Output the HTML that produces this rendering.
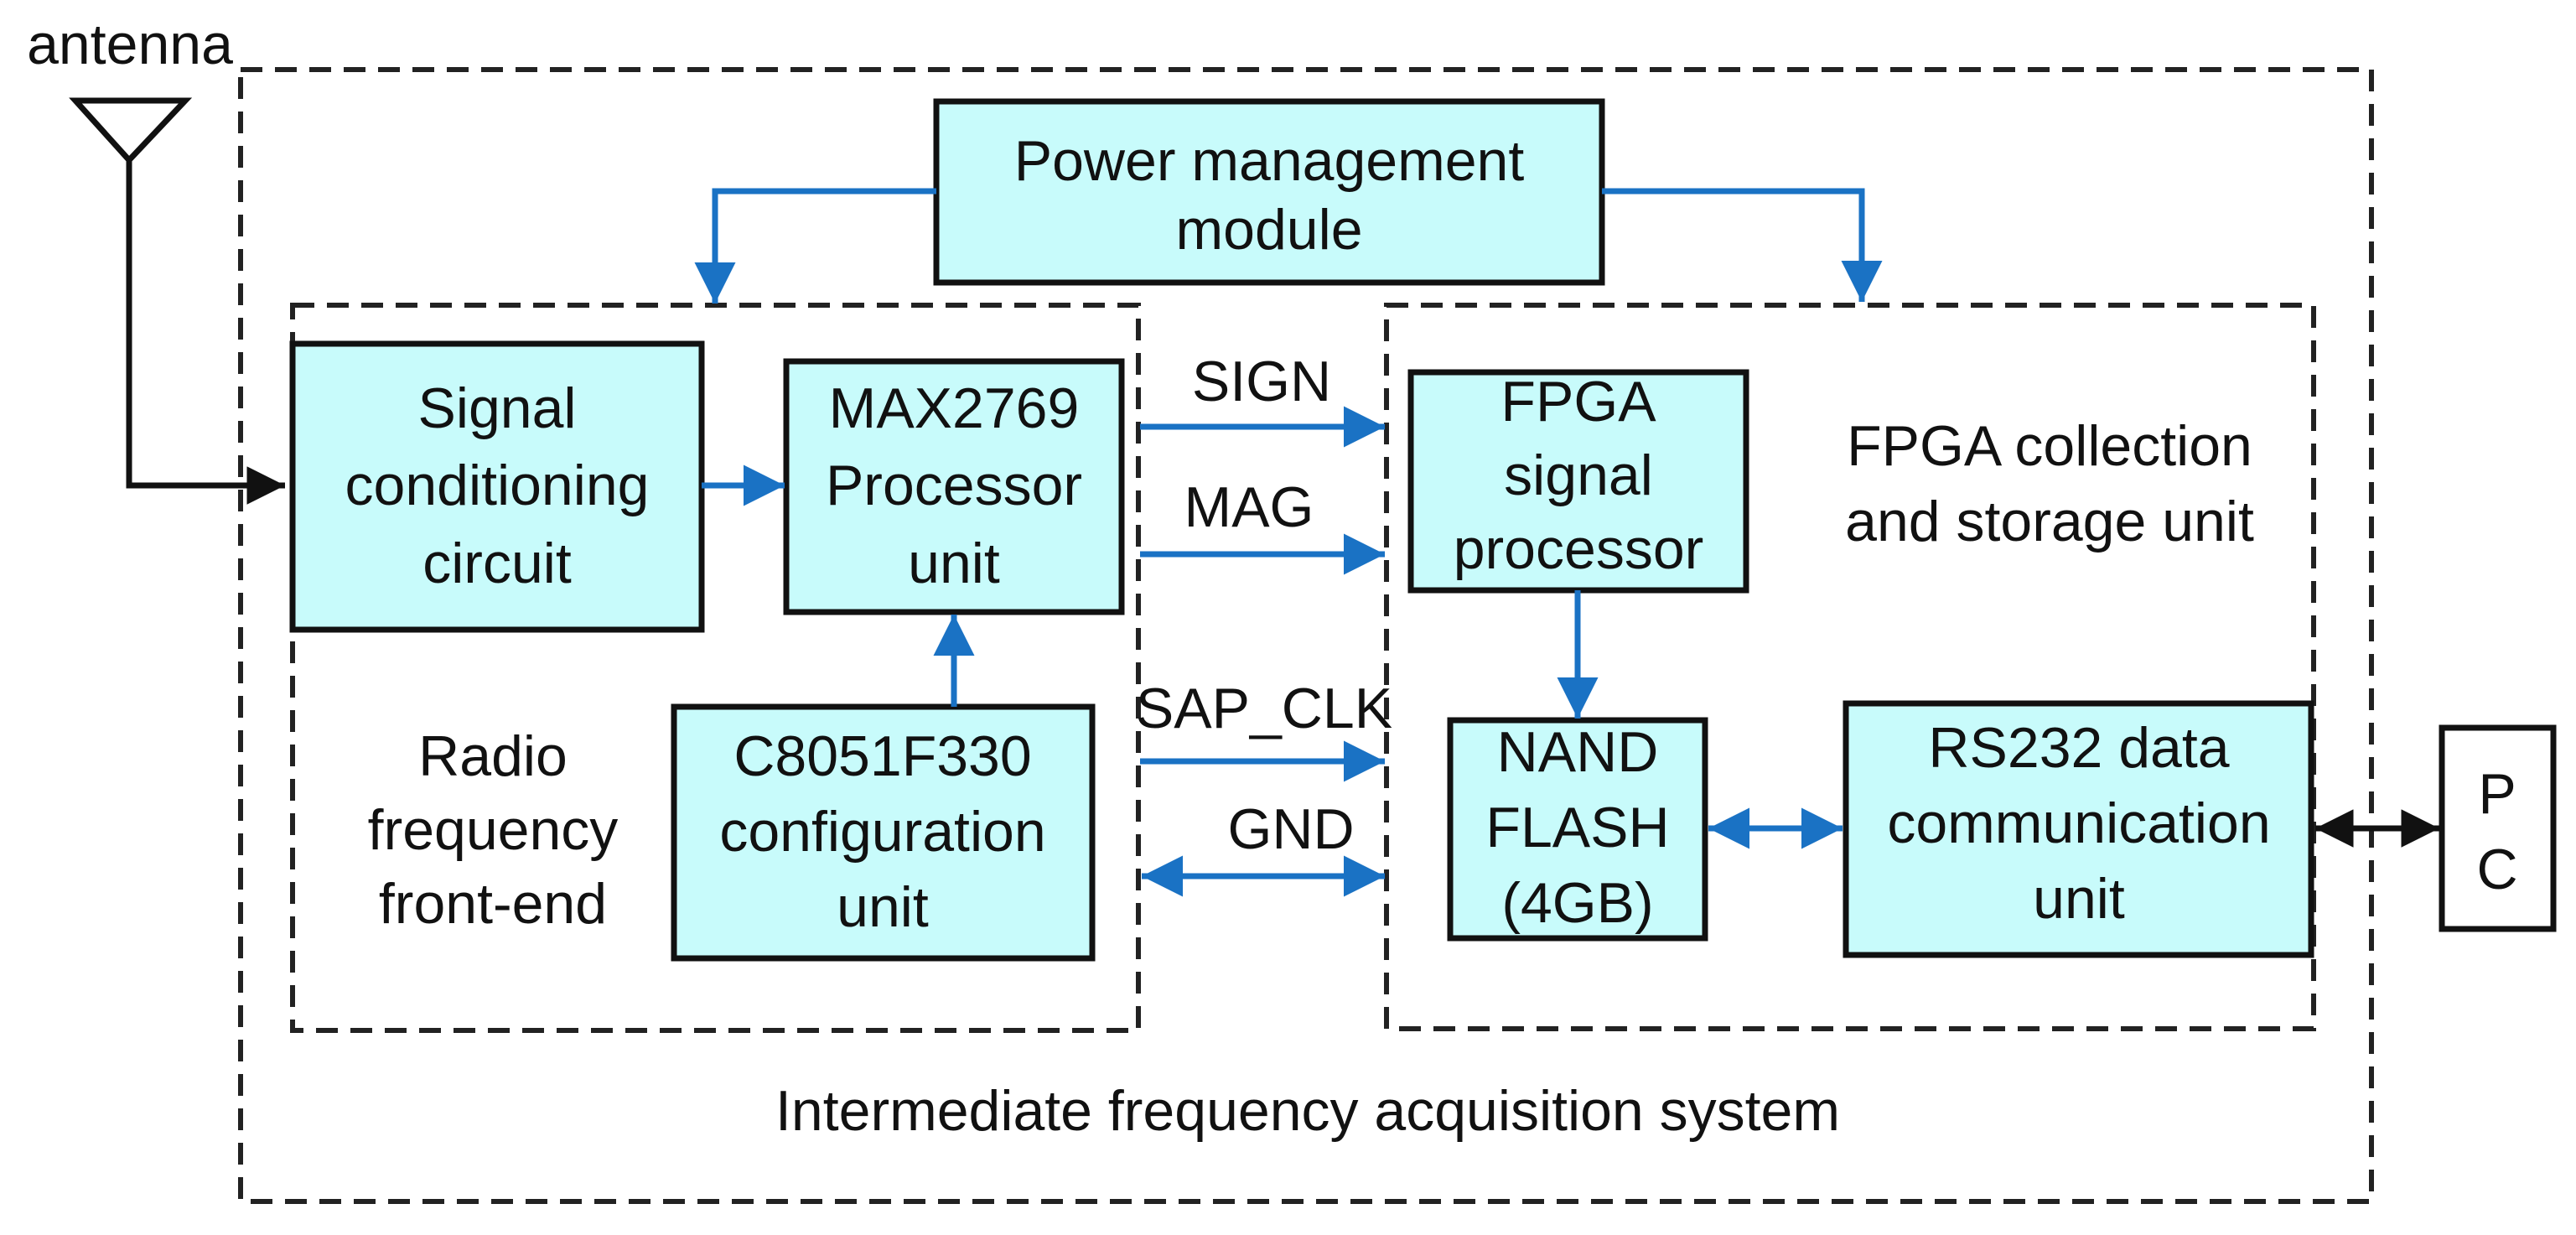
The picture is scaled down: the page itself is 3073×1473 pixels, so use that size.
<!DOCTYPE html>
<html><head><meta charset="utf-8"><style>
html,body{margin:0;padding:0;background:#fff;}
svg{display:block;}
text{font-family:"Liberation Sans",sans-serif;font-size:68px;fill:#111;text-anchor:middle;}
</style></head><body>
<svg width="3073" height="1473" viewBox="0 0 3073 1473" xmlns="http://www.w3.org/2000/svg">
<defs>
<marker id="bh" viewBox="0 0 10 10" refX="10" refY="5" markerWidth="7" markerHeight="7" markerUnits="strokeWidth" orient="auto-start-reverse"><path d="M0,0 L10,5 L0,10 Z" fill="#1a72c4"/></marker>
<marker id="kh" viewBox="0 0 10 10" refX="10" refY="5" markerWidth="6.5" markerHeight="6.5" markerUnits="strokeWidth" orient="auto-start-reverse"><path d="M0,0 L10,5 L0,10 Z" fill="#111"/></marker>
</defs>
<g fill="none" stroke="#222" stroke-width="6" stroke-dasharray="26,15">
<rect x="287" y="83" width="2542" height="1350"/>
<rect x="349" y="364" width="1009" height="865"/>
<rect x="1654" y="364" width="1106" height="863"/>
</g>
<text x="155" y="76" font-size="60">antenna</text>
<path d="M90,120 L221,120 L154,191 Z" fill="none" stroke="#111" stroke-width="7"/>
<polyline points="154,191 154,579 340,579" fill="none" stroke="#111" stroke-width="7" marker-end="url(#kh)"/>
<g fill="#c8fbfb" stroke="#111" stroke-width="7">
<rect x="1117" y="121" width="794" height="216"/>
<rect x="349" y="410" width="488" height="341"/>
<rect x="938" y="431" width="400" height="299"/>
<rect x="804" y="843" width="499" height="300"/>
<rect x="1683" y="444" width="400" height="260"/>
<rect x="1730" y="859" width="304" height="260"/>
<rect x="2202" y="839" width="555" height="300"/>
<rect x="2913" y="868" width="133" height="240" fill="#fff"/>
</g>
<g fill="none" stroke="#1a72c4" stroke-width="7">
<polyline points="1117,228 853,228 853,362" marker-end="url(#bh)"/>
<polyline points="1911,228 2221,228 2221,360" marker-end="url(#bh)"/>
<line x1="837" y1="579" x2="936" y2="579" marker-end="url(#bh)"/>
<line x1="1138" y1="843" x2="1138" y2="733" marker-end="url(#bh)"/>
<line x1="1360" y1="509" x2="1652" y2="509" marker-end="url(#bh)"/>
<line x1="1360" y1="661" x2="1652" y2="661" marker-end="url(#bh)"/>
<line x1="1360" y1="908" x2="1652" y2="908" marker-end="url(#bh)"/>
<line x1="1362" y1="1045" x2="1652" y2="1045" marker-start="url(#bh)" marker-end="url(#bh)"/>
<line x1="1882" y1="704" x2="1882" y2="857" marker-end="url(#bh)"/>
<line x1="2038" y1="988" x2="2198" y2="988" marker-start="url(#bh)" marker-end="url(#bh)"/>
</g>
<line x1="2762" y1="988" x2="2910" y2="988" stroke="#111" stroke-width="7" marker-start="url(#kh)" marker-end="url(#kh)"/>
<text x="1514" y="215">Power management</text>
<text x="1514" y="297">module</text>
<text x="593" y="510">Signal</text>
<text x="593" y="602">conditioning</text>
<text x="593" y="695">circuit</text>
<text x="1138" y="510">MAX2769</text>
<text x="1138" y="602">Processor</text>
<text x="1138" y="695">unit</text>
<text x="1053" y="925">C8051F330</text>
<text x="1053" y="1015">configuration</text>
<text x="1053" y="1105">unit</text>
<text x="588" y="925">Radio</text>
<text x="588" y="1013">frequency</text>
<text x="588" y="1101">front-end</text>
<text x="1505" y="478" font-size="62">SIGN</text>
<text x="1490" y="628" font-size="62">MAG</text>
<text x="1508" y="868" font-size="62">SAP_CLK</text>
<text x="1540" y="1012" font-size="62">GND</text>
<text x="1883" y="502">FPGA</text>
<text x="1883" y="590">signal</text>
<text x="1883" y="678">processor</text>
<text x="2445" y="555">FPGA collection</text>
<text x="2445" y="645">and storage unit</text>
<text x="1882" y="920">NAND</text>
<text x="1882" y="1010">FLASH</text>
<text x="1882" y="1100">(4GB)</text>
<text x="2480" y="915">RS232 data</text>
<text x="2480" y="1005">communication</text>
<text x="2480" y="1095">unit</text>
<text x="2979" y="970">P</text>
<text x="2979" y="1060">C</text>
<text x="1560" y="1348">Intermediate frequency acquisition system</text>
</svg>
</body></html>
